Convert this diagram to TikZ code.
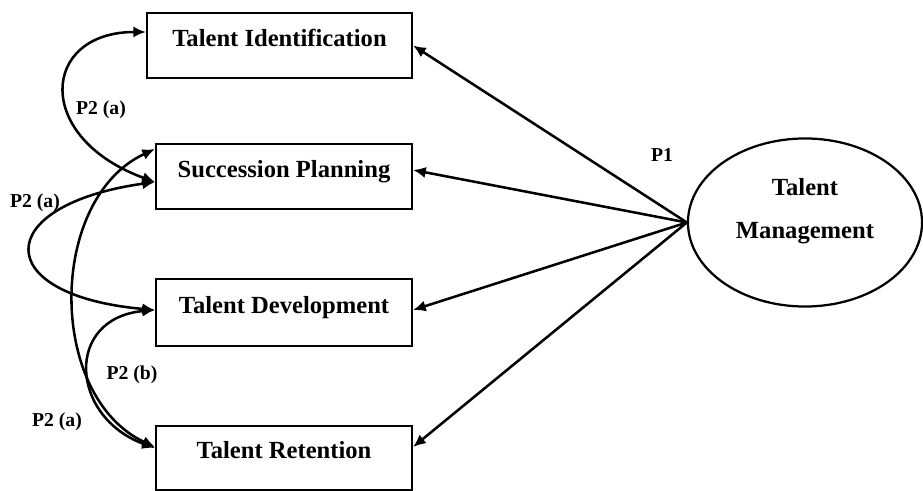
\documentclass[tikz,border=0pt]{standalone}
\usepackage{fontspec}
\setmainfont{Liberation Serif}
\usetikzlibrary{calc,shapes.geometric,arrows.meta}

\tikzset{
  factor/.style={draw, rectangle, line width=1.5pt, minimum height=1.625cm,
    text height=0.45cm, text depth=0.42cm, font=\bfseries\fontsize{17.5}{21}\selectfont},
  latent/.style={draw, ellipse, line width=1.6pt, minimum width=5.85cm, minimum height=4.2cm,
    align=center, text height=1.23cm, text depth=0.42cm, font=\bfseries\fontsize{17.5}{21}\selectfont},
  pathto/.style={line width=1.8pt, -{Latex[length=9pt,width=8pt]}},
  corr/.style={line width=1.8pt, {Latex[length=9pt,width=8pt]}-{Latex[length=9pt,width=8pt]}},
  plabel/.style={font=\bfseries\fontsize{14}{16}\selectfont}
}

\begin{document}
\begin{tikzpicture}[x=0.025cm, y=0.025cm]
  \useasboundingbox (0,0) rectangle (923,491);

  % the four factors
  \node[factor, minimum width=6.625cm] (ident) at (279.5,445.5) {Talent Identification};
  \node[factor, minimum width=6.4cm] (succ) at (284,314.5) {Succession Planning};
  \node[factor, minimum width=6.4cm, minimum height=1.675cm] (dev) at (284,178.5) {Talent Development};
  \node[factor, minimum width=6.4cm, minimum height=1.6cm] (ret) at (284,33) {Talent Retention};

  \node[latent] (tm) at (805,268.5) {Talent\\[10pt]Management};

  % P1
  \draw[pathto] (tm.west) -- (ident.east);
  \draw[pathto] (tm.west) -- ($(succ.east)+(0,6.5)$);
  \draw[pathto] (tm.west) -- ($(dev.east)+(0,2.5)$);
  \draw[pathto] (tm.west) -- ($(ret.east)+(0,11)$);
  \node[plabel] (p1) at (662,336) {P1};

  % P2
  \draw[corr] ($(ident.west)+(0,13.5)$) .. controls +(180:105) and +(160:130) .. ($(succ.west)+(0,-5.5)$);
  \draw[corr] ($(succ.west)+(0,-5.5)$) .. controls +(188:166) and +(175:166) .. ($(dev.west)+(0,2.5)$);
  \draw[corr] ($(succ.west)+(0,27.5)$) .. controls +(205:119) and +(155:119) .. ($(ret.west)+(0,11)$);
  \draw[corr] ($(dev.west)+(0,2.5)$) .. controls +(185:91) and +(160:91) .. ($(ret.west)+(0,10)$);

  \node[plabel] (p2top) at (101,381) {P2 (a)};
  \node[plabel] (p2mid) at (35,288) {P2 (a)};
  \node[plabel] (p2b) at (132,116) {P2 (b)};
  \node[plabel] (p2bot) at (57,69) {P2 (a)};
\end{tikzpicture}
\end{document}
